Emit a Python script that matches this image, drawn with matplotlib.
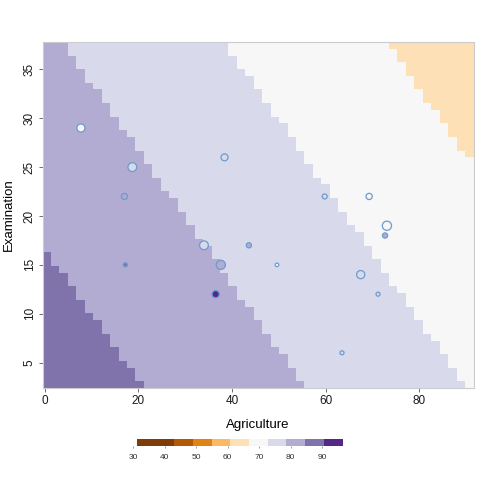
import numpy as np
import matplotlib.pyplot as plt
from matplotlib.colors import ListedColormap, BoundaryNorm

plt.rcParams['font.family'] = ['Liberation Sans', 'DejaVu Sans']

# --- surface (fitted plane, others held fixed) ---
INTERCEPT = 88.87
COEF_AGRI = -0.172
COEF_EXAM = -0.252
XLIM = (-0.5, 91.6)
YLIM = (2.4, 37.8)
NCELL = 51

# binned colour scale
breaks = [31.1, 37.05, 43.0, 48.95, 54.9, 60.85, 66.8, 72.75, 78.7, 84.65, 90.6, 96.55]
colors = ['#7f3b08', '#7f3b08', '#b35806', '#e08214', '#fdb863', '#fee0b6',
          '#f7f7f7', '#d8daeb', '#b2abd2', '#8073ac', '#542788']
cbar_ticks = [30, 40, 50, 60, 70, 80, 90]

# --- observed points ---
agri = [7.7, 18.7, 17.0, 38.4, 34.0, 37.6, 17.2, 36.5, 43.6, 49.6,
        59.8, 69.3, 73.1, 72.7, 67.5, 71.2, 63.5]
exam = [29, 25, 22, 26, 17, 15, 15, 12, 17, 15,
        22, 22, 19, 18, 14, 12, 6]
obs = [70, 76, 82, 76, 76, 82, 87, 93, 84, 70,
       76, 70, 70, 80, 76, 76, 76]
weight = [4.0, 4.4, 3.0, 3.5, 4.4, 4.6, 2.0, 3.6, 2.6, 1.8,
          2.5, 3.1, 4.6, 2.6, 4.1, 2.0, 2.0]

cmap = ListedColormap(colors)
norm = BoundaryNorm(breaks, cmap.N)

xe = np.linspace(XLIM[0], XLIM[1], NCELL + 1)
ye = np.linspace(YLIM[0], YLIM[1], NCELL + 1)
xc = (xe[:-1] + xe[1:]) / 2
yc = (ye[:-1] + ye[1:]) / 2
XX, YY = np.meshgrid(xc, yc)
ZZ = INTERCEPT + COEF_AGRI * XX + COEF_EXAM * YY

fig = plt.figure(figsize=(4.8, 4.8), dpi=100)
ax = fig.add_axes([42.5 / 480, 1 - 388 / 480, 431 / 480, 346 / 480])
ax.pcolormesh(xe, ye, ZZ, cmap=cmap, norm=norm, shading='flat')

sizes = [(2 * w * 0.72) ** 2 for w in weight]
ax.scatter(agri, exam, s=sizes, c=obs, cmap=cmap, norm=norm,
           edgecolors='#6b9bcf', linewidths=0.9, zorder=3)

ax.set_xlim(XLIM)
ax.set_ylim(YLIM)
ax.set_xticks([0, 20, 40, 60, 80])
ax.set_yticks([5, 10, 15, 20, 25, 30, 35])
for s in ax.spines.values():
    s.set_color('#cccccc')
    s.set_linewidth(0.8)
ax.tick_params(colors='#555555', labelcolor='#1a1a1a', labelsize=8.5,
               length=3, width=0.6, pad=2)
plt.setp(ax.get_yticklabels(), rotation=90, va='center')
ax.set_xlabel('Agriculture', fontsize=9.5, labelpad=9)
ax.set_ylabel('Examination', fontsize=9.5, labelpad=6)

# colour key
x0, x1 = 25.77, 102.08
cax = fig.add_axes([120 / 480, 1 - 446 / 480, 240 / 480, 7 / 480])
for i in range(len(colors)):
    cax.axvspan(breaks[i], breaks[i + 1], color=colors[i], lw=0)
cax.set_xlim(x0, x1)
cax.set_ylim(0, 1)
cax.set_yticks([])
cax.set_xticks(cbar_ticks)
for s in cax.spines.values():
    s.set_visible(False)
cax.tick_params(axis='x', length=1.5, width=0.5, colors='#777777',
                labelcolor='#333333', labelsize=6, pad=4)

fig.savefig('out.png', dpi=100)
